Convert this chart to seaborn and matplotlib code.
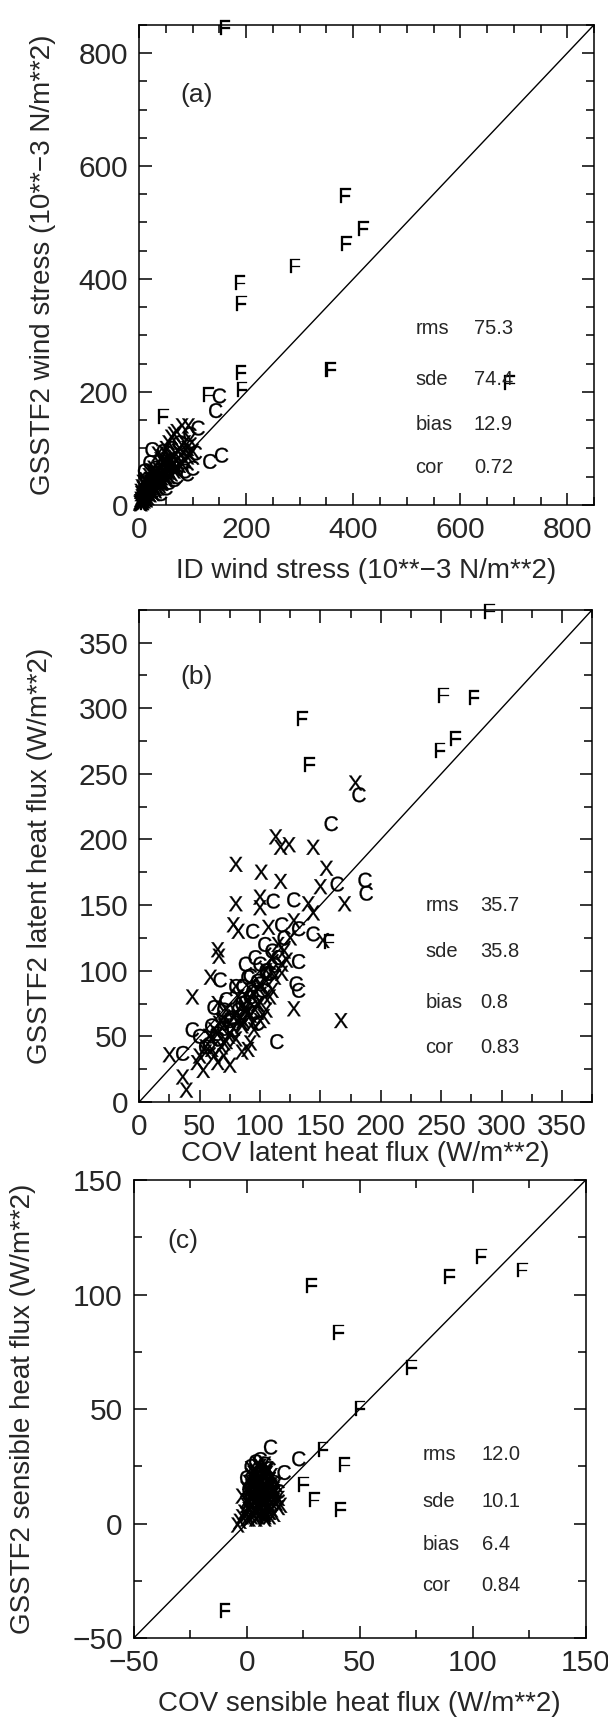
import pandas as pd
import matplotlib
matplotlib.use("Agg")
import matplotlib.pyplot as plt
import seaborn as sns
from matplotlib.ticker import MultipleLocator

# ---------------- DATA ----------------
# panel (a): ID vs GSSTF2 wind stress
a_X_x = [5, 8, 10, 12, 15, 18, 20, 22, 25, 28, 30, 32, 35, 38, 40, 42, 45, 48, 50, 52,
         55, 58, 60, 62, 65, 68, 70, 72, 75, 78, 80, 85, 90, 95, 100, 6, 3, 2, 4, 7,
         10, 13, 16, 20, 24, 26, 30, 34, 38, 44, 50, 55, 60, 65, 70, 75, 80, 85, 90, 95,
         35, 40, 45, 50, 25, 55, 60, 65, 70, 80, 92]
a_X_y = [8, 12, 15, 10, 22, 25, 18, 30, 35, 28, 40, 45, 38, 50, 55, 48, 60, 52, 65, 70,
         58, 75, 80, 68, 85, 90, 78, 95, 100, 88, 105, 110, 100, 115, 95, 4, 10, 5, 20, 28,
         35, 40, 30, 45, 52, 20, 25, 30, 34, 40, 45, 50, 55, 60, 62, 70, 72, 80, 85, 88,
         90, 80, 75, 100, 60, 110, 120, 125, 130, 140, 140]
a_dense_x = [1, 2, 3, 4, 5, 6, 7, 8, 9, 10, 11, 12, 13, 14, 15, 16, 17, 18, 19, 20,
             22, 24, 26, 28, 30, 32, 34, 36, 38, 40, 42, 46, 50, 54, 58, 62,
             3, 5, 7, 9, 11, 14, 18, 22, 27, 33, 38, 43, 48, 53]
a_dense_y = [3, 6, 2, 9, 14, 5, 18, 11, 7, 22, 16, 25, 9, 20, 30, 13, 27, 35, 19, 40,
             24, 44, 33, 50, 29, 56, 42, 62, 47, 70, 38, 58, 74, 63, 82, 72,
             24, 32, 40, 16, 45, 28, 52, 60, 65, 48, 40, 85, 92, 80]
a_C_x = [10, 15, 20, 30, 45, 60, 75, 85, 90, 100, 105, 95, 40, 50, 65, 70, 55, 110,
         24, 132, 154, 143, 150]
a_C_y = [60, 45, 75, 65, 95, 100, 110, 60, 55, 65, 92, 125, 20, 30, 45, 50, 40, 136,
         98, 77, 88, 167, 193]
a_F_x = [10, 15, 20, 30, 45, 129, 188, 191, 190, 192, 160, 385, 419, 387, 291, 358,
         692, 12, 25, 35]
a_F_y = [10, 20, 30, 55, 157, 195, 393, 357, 234, 205, 845, 548, 489, 463, 423, 240,
         216, 5, 15, 45]
a_stats = [("rms", "75.3"), ("sde", "74.4"), ("bias", "12.9"), ("cor", "0.72")]

# panel (b): COV vs GSSTF2 latent heat flux
b_F_x = [290, 252, 277, 262, 249, 135, 141, 157]
b_F_y = [374, 310, 308, 277, 268, 292, 257, 122]
b_X_x = [179, 113, 117, 124, 144, 80, 101, 155, 117, 150, 170, 80, 100, 100, 140, 144,
         82, 78, 107, 152, 128, 65, 66, 59, 44, 128, 167, 25, 36, 39, 53,
         60, 62, 65, 68, 70, 72, 75, 78, 80, 82, 85, 88, 90, 92, 95, 98, 100, 103, 105,
         108, 110, 112, 115, 118, 120, 125, 70, 75, 85, 90, 95, 100, 65, 58, 55, 50, 48,
         80, 85, 92, 105, 118, 122, 110, 96]
b_X_y = [243, 202, 194, 196, 194, 181, 175, 178, 168, 164, 151, 151, 156, 148, 151, 144,
         130, 135, 133, 123, 138, 116, 111, 95, 80, 71, 62, 36, 19, 9, 24,
         40, 55, 30, 62, 45, 70, 28, 65, 48, 80, 60, 72, 40, 85, 55, 75, 90, 65, 100,
         80, 110, 95, 120, 105, 115, 125, 35, 52, 38, 68, 82, 62, 75, 50, 42, 35, 30,
         88, 58, 45, 70, 98, 108, 85, 70]
b_dense_x = [55, 60, 65, 70, 75, 80, 85, 90, 95, 100, 105, 110,
             62, 68, 74, 86, 92, 98, 104, 78, 84, 88, 94, 72, 66]
b_dense_y = [38, 48, 52, 58, 60, 68, 72, 78, 82, 88, 92, 100,
             35, 42, 50, 62, 66, 74, 80, 56, 64, 70, 60, 46, 60]
b_C_x = [182, 159, 164, 187, 188, 111, 128, 132, 94, 144, 67, 132, 130, 132, 114, 36, 44,
         50, 55, 60, 65, 70, 75, 80, 85, 90, 95, 100, 105, 110, 115, 120, 88, 92, 98,
         102, 72, 78, 84, 62, 108, 118, 104, 96,
         58, 64, 70, 76, 82, 88, 94, 100, 106, 112, 86, 92, 98]
b_C_y = [234, 212, 166, 169, 159, 153, 154, 132, 130, 128, 93, 107, 90, 85, 46, 37, 55,
         50, 42, 58, 48, 70, 62, 88, 75, 95, 68, 105, 100, 115, 110, 125, 105, 80, 92,
         85, 78, 55, 65, 72, 98, 135, 120, 110,
         44, 52, 56, 64, 70, 76, 84, 90, 98, 104, 88, 96, 60]
b_stats = [("rms", "35.7"), ("sde", "35.8"), ("bias", "0.8"), ("cor", "0.83")]

# panel (c): COV vs GSSTF2 sensible heat flux
c_F_x = [28.7, 40.7, 89.8, 103.9, 122, 73, 50.2, 33.8, 43.3, 25.2, 30, 41.6, -9.6]
c_F_y = [104, 83.6, 108, 116.8, 110.8, 68.3, 50.4, 32.5, 25.7, 17.2, 10.4, 6.2, -38]
c_C_x = [10.6, 23.1, 16.6, 0, 2, 4, 6, 8, 10, 12, 14, 1, 5, 9]
c_C_y = [33.4, 28.3, 22.3, 20, 25, 27, 28, 26, 24, 18, 14, 15, 22, 20]
c_X_x = [-4, -3, -2, -1, 0, 1, 2, 3, 4, 5, 6, 7, 8, 9, 10, 11, 12, 13, 14, 15,
         -2, 0, 2, 4, 6, 8, 10, 12, 14, 1, 3, 5, 7, 9, 11, 13, 0, 2, 4, 6,
         8, 10, 12, 3, 5, 7, 9, 11, 2, 4, 6, 8, 10, 5, 7, 9, 4, 6, 8, 10,
         3, 5, 7, 1, 3, 6, 9, 11, 13, 2, 5, 8]
c_X_y = [-0.6, 1, 3, 5, 2, 6, 8, 4, 10, 7, 12, 9, 5, 11, 8, 6, 10, 9, 7, 8,
         12, 15, 18, 14, 20, 16, 13, 15, 11, 10, 22, 17, 24, 19, 21, 17, 8, 11, 6, 4,
         3, 5, 4, 13, 9, 14, 23, 12, 16, 18, 25, 21, 17, 14, 18, 22, 2, 7, 11, 19,
         20, 26, 16, 18, 12, 10, 15, 14, 12, 21, 3, 2]
c_dense_x = [0, 1, 2, 3, 4, 5, 6, 7, 8, 9, 10, 11, 12,
             0, 1, 2, 3, 4, 5, 6, 7, 8, 9, 10, 11, 12,
             1, 2, 3, 4, 5, 6, 7, 8, 9, 10, 11,
             2, 3, 4, 5, 6, 7, 8, 9, 10]
c_dense_y = [4, 6, 3, 9, 5, 11, 7, 13, 9, 15, 11, 17, 13,
             10, 14, 12, 18, 16, 20, 18, 22, 20, 24, 19, 16, 14,
             2, 7, 16, 21, 25, 13, 8, 26, 23, 5, 9,
             24, 19, 23, 13, 17, 10, 4, 6, 3]
c_stats = [("rms", "12.0"), ("sde", "10.1"), ("bias", "6.4"), ("cor", "0.84")]

# ---------------- STYLE ----------------
sns.set_style("ticks")
plt.rcParams["font.family"] = ["Liberation Sans", "DejaVu Sans"]
plt.rcParams["mathtext.fontset"] = "custom"
plt.rcParams["mathtext.rm"] = "Liberation Sans"

letter = {"F": r"$\mathrm{F}$", "C": r"$\mathrm{C}$", "X": r"$\mathrm{X}$"}


def make_df(groups):
    frames = []
    for kind, xs, ys in groups:
        frames.append(pd.DataFrame({"x": xs, "y": ys, "kind": kind}))
    return pd.concat(frames, ignore_index=True)


fig = plt.figure(figsize=(6.08, 17.21), dpi=100)

panels = [
    dict(rect=[0.229, 0.7066, 0.748, 0.279], lim=(0, 850), major=200, minor=50,
         df=make_df([("X", a_X_x, a_X_y), ("X", a_dense_x, a_dense_y),
                     ("C", a_C_x, a_C_y), ("F", a_F_x, a_F_y)]),
         stats=a_stats, tag="(a)", tagpos=(0.09, 0.854),
         sx=(0.607, 0.736), sy=[0.367, 0.261, 0.168, 0.079], xpad=10, ypad=16,
         xlabel="ID wind stress (10**\u22123 N/m**2)",
         ylabel="GSSTF2 wind stress (10**\u22123 N/m**2)"),
    dict(rect=[0.229, 0.3597, 0.745, 0.286], lim=(0, 375), major=50, minor=25,
         df=make_df([("X", b_X_x, b_X_y), ("X", b_dense_x, b_dense_y),
                     ("C", b_C_x, b_C_y), ("F", b_F_x, b_F_y)]),
         stats=b_stats, tag="(b)", tagpos=(0.09, 0.864),
         sx=(0.632, 0.752), sy=[0.40, 0.305, 0.202, 0.111], xpad=0, ypad=18,
         xlabel="COV latent heat flux (W/m**2)",
         ylabel="GSSTF2 latent heat flux (W/m**2)"),
    dict(rect=[0.220, 0.0482, 0.743, 0.266], lim=(-50, 150), major=50, minor=25,
         df=make_df([("X", c_X_x, c_X_y), ("X", c_dense_x, c_dense_y),
                     ("C", c_C_x, c_C_y), ("F", c_F_x, c_F_y)]),
         stats=c_stats, tag="(c)", tagpos=(0.075, 0.868),
         sx=(0.639, 0.77), sy=[0.40, 0.298, 0.204, 0.115], xpad=10, ypad=26,
         xlabel="COV sensible heat flux (W/m**2)",
         ylabel="GSSTF2 sensible heat flux (W/m**2)"),
]

for p in panels:
    ax = fig.add_axes(p["rect"])
    sns.scatterplot(data=p["df"], x="x", y="y", style="kind", markers=letter,
                    color="black", s=115, edgecolor="black", linewidth=0.2,
                    legend=False, ax=ax, clip_on=False)
    lo, hi = p["lim"]
    ax.plot([lo, hi], [lo, hi], color="black", lw=1.0)
    ax.set_xlim(lo, hi)
    ax.set_ylim(lo, hi)
    ax.xaxis.set_major_locator(MultipleLocator(p["major"]))
    ax.yaxis.set_major_locator(MultipleLocator(p["major"]))
    ax.xaxis.set_minor_locator(MultipleLocator(p["minor"]))
    ax.yaxis.set_minor_locator(MultipleLocator(p["minor"]))
    ax.tick_params(which="both", direction="in", top=True, right=True,
                   width=1.1, color="black")
    ax.tick_params(which="major", length=9, labelsize=21.5, pad=8)
    ax.tick_params(which="minor", length=5.5)
    for sp in ax.spines.values():
        sp.set_linewidth(1.1)
        sp.set_color("black")
    ax.set_xlabel(p["xlabel"], fontsize=20, labelpad=p["xpad"])
    ax.set_ylabel(p["ylabel"], fontsize=20, labelpad=p["ypad"])
    ax.text(p["tagpos"][0], p["tagpos"][1], p["tag"], transform=ax.transAxes,
            fontsize=19, va="center", ha="left")
    for (name, val), yy in zip(p["stats"], p["sy"]):
        ax.text(p["sx"][0], yy, name, transform=ax.transAxes, fontsize=14.5,
                va="center", ha="left")
        ax.text(p["sx"][1], yy, val, transform=ax.transAxes, fontsize=14.5,
                va="center", ha="left")

fig.savefig("out.png", dpi=100)
